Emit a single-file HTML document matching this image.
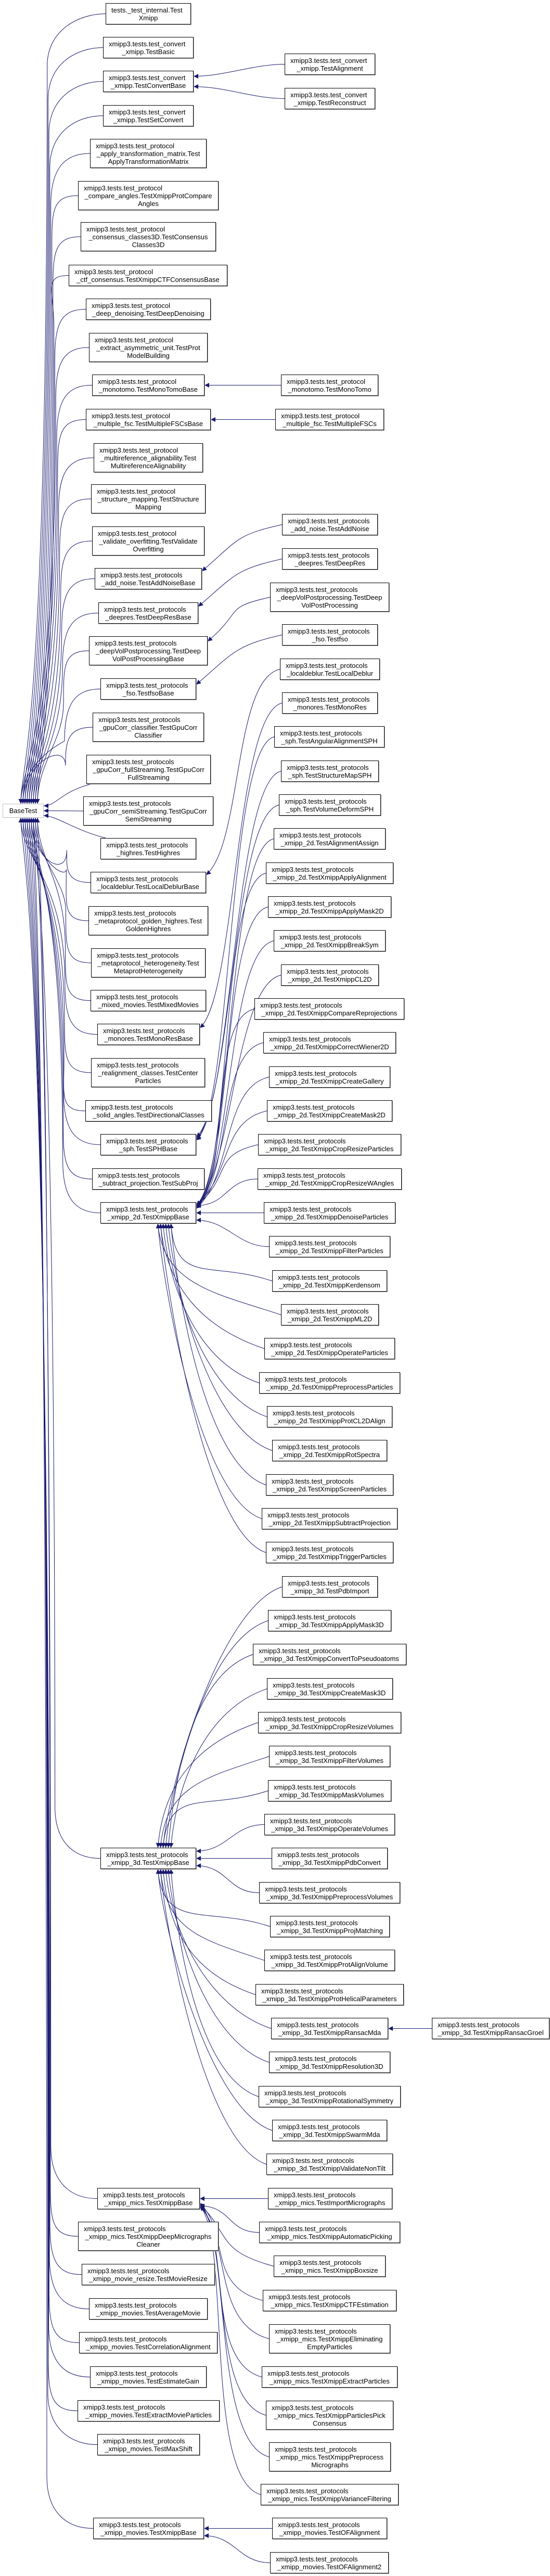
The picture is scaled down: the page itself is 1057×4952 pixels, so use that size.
<!DOCTYPE html>
<html><head><meta charset="utf-8">
<style>
html,body{margin:0;padding:0;background:#fff;}
body{width:1057px;height:4952px;position:relative;overflow:hidden;}
.n{position:absolute;box-sizing:border-box;height:41px;border:1px solid #000;background:#fff;font:13px/15px "Liberation Sans",sans-serif;color:#000;padding:5px 10px 0 10px;white-space:nowrap;box-shadow:1px 1px 0 #aaa;}
.n.t3{height:56px;}
.n div{text-align:center;}
.n div.a{text-align:left;}
#BT{border-color:#bfbfbf;box-shadow:none;height:27px;padding:5px 0 0 0;text-align:center;}
svg{position:absolute;left:0;top:0;}
</style></head><body>
<svg id="sv" width="1057" height="4952" xmlns="http://www.w3.org/2000/svg">
<defs><marker id="ar" viewBox="0 0 10 10" refX="10" refY="5" markerWidth="11" markerHeight="9" markerUnits="userSpaceOnUse" orient="auto"><path d="M0,0 L10,5 L0,10 z" fill="#191970"/></marker></defs>
<g id="eg" fill="none" stroke="#191970" stroke-width="1"></g>
</svg>

<div class="n" id="BT" style="left:5px;top:1545px;width:79px">BaseTest</div>

<div class="n" id="A" style="left:203px;top:6px;width:164px"><div class="a">tests._test_internal.Test</div><div>Xmipp</div></div>
<div class="n" id="B" style="left:198px;top:71px;width:174px"><div class="a">xmipp3.tests.test_convert</div><div>_xmipp.TestBasic</div></div>
<div class="n" id="C" style="left:198px;top:136px;width:174px"><div class="a">xmipp3.tests.test_convert</div><div>_xmipp.TestConvertBase</div></div>
<div class="n" id="D" style="left:198px;top:202px;width:174px"><div class="a">xmipp3.tests.test_convert</div><div>_xmipp.TestSetConvert</div></div>
<div class="n t3" id="E" style="left:173px;top:267px;width:224px"><div class="a">xmipp3.tests.test_protocol</div><div>_apply_transformation_matrix.Test</div><div>ApplyTransformationMatrix</div></div>
<div class="n t3" id="F" style="left:150px;top:348px;width:270px"><div class="a">xmipp3.tests.test_protocol</div><div>_compare_angles.TestXmippProtCompare</div><div>Angles</div></div>
<div class="n t3" id="G" style="left:155px;top:427px;width:260px"><div class="a">xmipp3.tests.test_protocol</div><div>_consensus_classes3D.TestConsensus</div><div>Classes3D</div></div>
<div class="n" id="H" style="left:132px;top:509px;width:305px"><div class="a">xmipp3.tests.test_protocol</div><div>_ctf_consensus.TestXmippCTFConsensusBase</div></div>
<div class="n" id="I" style="left:165px;top:574px;width:240px"><div class="a">xmipp3.tests.test_protocol</div><div>_deep_denoising.TestDeepDenoising</div></div>
<div class="n t3" id="J" style="left:171px;top:640px;width:228px"><div class="a">xmipp3.tests.test_protocol</div><div>_extract_asymmetric_unit.TestProt</div><div>ModelBuilding</div></div>
<div class="n" id="K" style="left:177px;top:720px;width:216px"><div class="a">xmipp3.tests.test_protocol</div><div>_monotomo.TestMonoTomoBase</div></div>
<div class="n" id="L" style="left:165px;top:786px;width:240px"><div class="a">xmipp3.tests.test_protocol</div><div>_multiple_fsc.TestMultipleFSCsBase</div></div>
<div class="n t3" id="M" style="left:180px;top:852px;width:210px"><div class="a">xmipp3.tests.test_protocol</div><div>_multireference_alignability.Test</div><div>MultireferenceAlignability</div></div>
<div class="n t3" id="N" style="left:175px;top:931px;width:220px"><div class="a">xmipp3.tests.test_protocol</div><div>_structure_mapping.TestStructure</div><div>Mapping</div></div>
<div class="n t3" id="O" style="left:177px;top:1012px;width:216px"><div class="a">xmipp3.tests.test_protocol</div><div>_validate_overfitting.TestValidate</div><div>Overfitting</div></div>
<div class="n" id="P" style="left:182px;top:1092px;width:206px"><div class="a">xmipp3.tests.test_protocols</div><div>_add_noise.TestAddNoiseBase</div></div>
<div class="n" id="Q" style="left:189px;top:1158px;width:192px"><div class="a">xmipp3.tests.test_protocols</div><div>_deepres.TestDeepResBase</div></div>
<div class="n t3" id="R" style="left:171px;top:1223px;width:228px"><div class="a">xmipp3.tests.test_protocols</div><div>_deepVolPostprocessing.TestDeep</div><div>VolPostProcessingBase</div></div>
<div class="n" id="S" style="left:193px;top:1304px;width:184px"><div class="a">xmipp3.tests.test_protocols</div><div>_fso.TestfsoBase</div></div>
<div class="n t3" id="T" style="left:178px;top:1370px;width:214px"><div class="a">xmipp3.tests.test_protocols</div><div>_gpuCorr_classifier.TestGpuCorr</div><div>Classifier</div></div>
<div class="n t3" id="U" style="left:166px;top:1451px;width:239px"><div class="a">xmipp3.tests.test_protocols</div><div>_gpuCorr_fullStreaming.TestGpuCorr</div><div>FullStreaming</div></div>
<div class="n t3" id="V" style="left:160px;top:1531px;width:250px"><div class="a">xmipp3.tests.test_protocols</div><div>_gpuCorr_semiStreaming.TestGpuCorr</div><div>SemiStreaming</div></div>
<div class="n" id="W" style="left:193px;top:1611px;width:184px"><div class="a">xmipp3.tests.test_protocols</div><div>_highres.TestHighres</div></div>
<div class="n" id="X" style="left:174px;top:1676px;width:222px"><div class="a">xmipp3.tests.test_protocols</div><div>_localdeblur.TestLocalDeblurBase</div></div>
<div class="n t3" id="Y" style="left:170px;top:1742px;width:230px"><div class="a">xmipp3.tests.test_protocols</div><div>_metaprotocol_golden_highres.Test</div><div>GoldenHighres</div></div>
<div class="n t3" id="Z" style="left:175px;top:1823px;width:220px"><div class="a">xmipp3.tests.test_protocols</div><div>_metaprotocol_heterogeneity.Test</div><div>MetaprotHeterogeneity</div></div>
<div class="n" id="AA" style="left:174px;top:1903px;width:222px"><div class="a">xmipp3.tests.test_protocols</div><div>_mixed_movies.TestMixedMovies</div></div>
<div class="n" id="AB" style="left:187px;top:1968px;width:197px"><div class="a">xmipp3.tests.test_protocols</div><div>_monores.TestMonoResBase</div></div>
<div class="n t3" id="AC" style="left:175px;top:2034px;width:219px"><div class="a">xmipp3.tests.test_protocols</div><div>_realignment_classes.TestCenter</div><div>Particles</div></div>
<div class="n" id="AD" style="left:164px;top:2115px;width:243px"><div class="a">xmipp3.tests.test_protocols</div><div>_solid_angles.TestDirectionalClasses</div></div>
<div class="n" id="AE" style="left:193px;top:2180px;width:184px"><div class="a">xmipp3.tests.test_protocols</div><div>_sph.TestSPHBase</div></div>
<div class="n" id="AF" style="left:177px;top:2246px;width:216px"><div class="a">xmipp3.tests.test_protocols</div><div>_subtract_projection.TestSubProj</div></div>
<div class="n" id="AG" style="left:193px;top:2311px;width:184px"><div class="a">xmipp3.tests.test_protocols</div><div>_xmipp_2d.TestXmippBase</div></div>
<div class="n" id="AH" style="left:193px;top:3552px;width:184px"><div class="a">xmipp3.tests.test_protocols</div><div>_xmipp_3d.TestXmippBase</div></div>
<div class="n" id="AI" style="left:187px;top:4206px;width:197px"><div class="a">xmipp3.tests.test_protocols</div><div>_xmipp_mics.TestXmippBase</div></div>
<div class="n t3" id="AJ" style="left:150px;top:4271px;width:270px"><div class="a">xmipp3.tests.test_protocols</div><div>_xmipp_mics.TestXmippDeepMicrographs</div><div>Cleaner</div></div>
<div class="n" id="AK" style="left:157px;top:4352px;width:256px"><div class="a">xmipp3.tests.test_protocols</div><div>_xmipp_movie_resize.TestMovieResize</div></div>
<div class="n" id="AL" style="left:171px;top:4418px;width:228px"><div class="a">xmipp3.tests.test_protocols</div><div>_xmipp_movies.TestAverageMovie</div></div>
<div class="n" id="AM" style="left:152px;top:4483px;width:266px"><div class="a">xmipp3.tests.test_protocols</div><div>_xmipp_movies.TestCorrelationAlignment</div></div>
<div class="n" id="AN" style="left:173px;top:4549px;width:224px"><div class="a">xmipp3.tests.test_protocols</div><div>_xmipp_movies.TestEstimateGain</div></div>
<div class="n" id="AO" style="left:149px;top:4614px;width:273px"><div class="a">xmipp3.tests.test_protocols</div><div>_xmipp_movies.TestExtractMovieParticles</div></div>
<div class="n" id="AP" style="left:187px;top:4679px;width:197px"><div class="a">xmipp3.tests.test_protocols</div><div>_xmipp_movies.TestMaxShift</div></div>
<div class="n" id="AQ" style="left:179px;top:4840px;width:213px"><div class="a">xmipp3.tests.test_protocols</div><div>_xmipp_movies.TestXmippBase</div></div>

<div class="n" id="c1" style="left:547px;top:103px;width:174px"><div class="a">xmipp3.tests.test_convert</div><div>_xmipp.TestAlignment</div></div>
<div class="n" id="c2" style="left:547px;top:169px;width:174px"><div class="a">xmipp3.tests.test_convert</div><div>_xmipp.TestReconstruct</div></div>
<div class="n" id="c3" style="left:540px;top:720px;width:187px"><div class="a">xmipp3.tests.test_protocol</div><div>_monotomo.TestMonoTomo</div></div>
<div class="n" id="c4" style="left:529px;top:786px;width:209px"><div class="a">xmipp3.tests.test_protocol</div><div>_multiple_fsc.TestMultipleFSCs</div></div>
<div class="n" id="c5" style="left:542px;top:988px;width:184px"><div class="a">xmipp3.tests.test_protocols</div><div>_add_noise.TestAddNoise</div></div>
<div class="n" id="c6" style="left:542px;top:1054px;width:184px"><div class="a">xmipp3.tests.test_protocols</div><div>_deepres.TestDeepRes</div></div>
<div class="n t3" id="c7" style="left:519px;top:1120px;width:229px"><div class="a">xmipp3.tests.test_protocols</div><div>_deepVolPostprocessing.TestDeep</div><div>VolPostProcessing</div></div>
<div class="n" id="c8" style="left:542px;top:1200px;width:184px"><div class="a">xmipp3.tests.test_protocols</div><div>_fso.Testfso</div></div>
<div class="n" id="c9" style="left:538px;top:1266px;width:192px"><div class="a">xmipp3.tests.test_protocols</div><div>_localdeblur.TestLocalDeblur</div></div>
<div class="n" id="c10" style="left:542px;top:1331px;width:184px"><div class="a">xmipp3.tests.test_protocols</div><div>_monores.TestMonoRes</div></div>
<div class="n" id="c11" style="left:527px;top:1396px;width:212px"><div class="a">xmipp3.tests.test_protocols</div><div>_sph.TestAngularAlignmentSPH</div></div>
<div class="n" id="c12" style="left:540px;top:1462px;width:188px"><div class="a">xmipp3.tests.test_protocols</div><div>_sph.TestStructureMapSPH</div></div>
<div class="n" id="c13" style="left:536px;top:1527px;width:196px"><div class="a">xmipp3.tests.test_protocols</div><div>_sph.TestVolumeDeformSPH</div></div>
<div class="n" id="c14" style="left:526px;top:1592px;width:215px"><div class="a">xmipp3.tests.test_protocols</div><div>_xmipp_2d.TestAlignmentAssign</div></div>
<div class="n" id="c15" style="left:511px;top:1658px;width:245px"><div class="a">xmipp3.tests.test_protocols</div><div>_xmipp_2d.TestXmippApplyAlignment</div></div>
<div class="n" id="c16" style="left:515px;top:1723px;width:237px"><div class="a">xmipp3.tests.test_protocols</div><div>_xmipp_2d.TestXmippApplyMask2D</div></div>
<div class="n" id="c17" style="left:526px;top:1788px;width:215px"><div class="a">xmipp3.tests.test_protocols</div><div>_xmipp_2d.TestXmippBreakSym</div></div>
<div class="n" id="c18" style="left:540px;top:1854px;width:188px"><div class="a">xmipp3.tests.test_protocols</div><div>_xmipp_2d.TestXmippCL2D</div></div>
<div class="n" id="c19" style="left:489px;top:1919px;width:288px"><div class="a">xmipp3.tests.test_protocols</div><div>_xmipp_2d.TestXmippCompareReprojections</div></div>
<div class="n" id="c20" style="left:506px;top:1984px;width:255px"><div class="a">xmipp3.tests.test_protocols</div><div>_xmipp_2d.TestXmippCorrectWiener2D</div></div>
<div class="n" id="c21" style="left:517px;top:2050px;width:233px"><div class="a">xmipp3.tests.test_protocols</div><div>_xmipp_2d.TestXmippCreateGallery</div></div>
<div class="n" id="c22" style="left:513px;top:2115px;width:241px"><div class="a">xmipp3.tests.test_protocols</div><div>_xmipp_2d.TestXmippCreateMask2D</div></div>
<div class="n" id="c23" style="left:496px;top:2180px;width:275px"><div class="a">xmipp3.tests.test_protocols</div><div>_xmipp_2d.TestXmippCropResizeParticles</div></div>
<div class="n" id="c24" style="left:495px;top:2246px;width:277px"><div class="a">xmipp3.tests.test_protocols</div><div>_xmipp_2d.TestXmippCropResizeWAngles</div></div>
<div class="n" id="c25" style="left:507px;top:2311px;width:253px"><div class="a">xmipp3.tests.test_protocols</div><div>_xmipp_2d.TestXmippDenoiseParticles</div></div>
<div class="n" id="c26" style="left:517px;top:2376px;width:233px"><div class="a">xmipp3.tests.test_protocols</div><div>_xmipp_2d.TestXmippFilterParticles</div></div>
<div class="n" id="c27" style="left:523px;top:2442px;width:221px"><div class="a">xmipp3.tests.test_protocols</div><div>_xmipp_2d.TestXmippKerdensom</div></div>
<div class="n" id="c28" style="left:540px;top:2507px;width:188px"><div class="a">xmipp3.tests.test_protocols</div><div>_xmipp_2d.TestXmippML2D</div></div>
<div class="n" id="c29" style="left:508px;top:2572px;width:251px"><div class="a">xmipp3.tests.test_protocols</div><div>_xmipp_2d.TestXmippOperateParticles</div></div>
<div class="n" id="c30" style="left:498px;top:2638px;width:271px"><div class="a">xmipp3.tests.test_protocols</div><div>_xmipp_2d.TestXmippPreprocessParticles</div></div>
<div class="n" id="c31" style="left:513px;top:2703px;width:241px"><div class="a">xmipp3.tests.test_protocols</div><div>_xmipp_2d.TestXmippProtCL2DAlign</div></div>
<div class="n" id="c32" style="left:523px;top:2768px;width:221px"><div class="a">xmipp3.tests.test_protocols</div><div>_xmipp_2d.TestXmippRotSpectra</div></div>
<div class="n" id="c33" style="left:511px;top:2834px;width:245px"><div class="a">xmipp3.tests.test_protocols</div><div>_xmipp_2d.TestXmippScreenParticles</div></div>
<div class="n" id="c34" style="left:503px;top:2899px;width:261px"><div class="a">xmipp3.tests.test_protocols</div><div>_xmipp_2d.TestXmippSubtractProjection</div></div>
<div class="n" id="c35" style="left:511px;top:2964px;width:245px"><div class="a">xmipp3.tests.test_protocols</div><div>_xmipp_2d.TestXmippTriggerParticles</div></div>
<div class="n" id="d1" style="left:542px;top:3030px;width:184px"><div class="a">xmipp3.tests.test_protocols</div><div>_xmipp_3d.TestPdbImport</div></div>
<div class="n" id="d2" style="left:515px;top:3095px;width:237px"><div class="a">xmipp3.tests.test_protocols</div><div>_xmipp_3d.TestXmippApplyMask3D</div></div>
<div class="n" id="d3" style="left:486px;top:3160px;width:295px"><div class="a">xmipp3.tests.test_protocols</div><div>_xmipp_3d.TestXmippConvertToPseudoatoms</div></div>
<div class="n" id="d4" style="left:513px;top:3226px;width:242px"><div class="a">xmipp3.tests.test_protocols</div><div>_xmipp_3d.TestXmippCreateMask3D</div></div>
<div class="n" id="d5" style="left:496px;top:3291px;width:275px"><div class="a">xmipp3.tests.test_protocols</div><div>_xmipp_3d.TestXmippCropResizeVolumes</div></div>
<div class="n" id="d6" style="left:517px;top:3356px;width:233px"><div class="a">xmipp3.tests.test_protocols</div><div>_xmipp_3d.TestXmippFilterVolumes</div></div>
<div class="n" id="d7" style="left:515px;top:3422px;width:237px"><div class="a">xmipp3.tests.test_protocols</div><div>_xmipp_3d.TestXmippMaskVolumes</div></div>
<div class="n" id="d8" style="left:508px;top:3487px;width:251px"><div class="a">xmipp3.tests.test_protocols</div><div>_xmipp_3d.TestXmippOperateVolumes</div></div>
<div class="n" id="d9" style="left:522px;top:3552px;width:223px"><div class="a">xmipp3.tests.test_protocols</div><div>_xmipp_3d.TestXmippPdbConvert</div></div>
<div class="n" id="d10" style="left:498px;top:3618px;width:271px"><div class="a">xmipp3.tests.test_protocols</div><div>_xmipp_3d.TestXmippPreprocessVolumes</div></div>
<div class="n" id="d11" style="left:519px;top:3683px;width:230px"><div class="a">xmipp3.tests.test_protocols</div><div>_xmipp_3d.TestXmippProjMatching</div></div>
<div class="n" id="d12" style="left:508px;top:3748px;width:251px"><div class="a">xmipp3.tests.test_protocols</div><div>_xmipp_3d.TestXmippProtAlignVolume</div></div>
<div class="n" id="d13" style="left:491px;top:3814px;width:285px"><div class="a">xmipp3.tests.test_protocols</div><div>_xmipp_3d.TestXmippProtHelicalParameters</div></div>
<div class="n" id="d14" style="left:521px;top:3879px;width:225px"><div class="a">xmipp3.tests.test_protocols</div><div>_xmipp_3d.TestXmippRansacMda</div></div>
<div class="n" id="d15" style="left:830px;top:3879px;width:226px"><div class="a">xmipp3.tests.test_protocols</div><div>_xmipp_3d.TestXmippRansacGroel</div></div>
<div class="n" id="d16" style="left:517px;top:3944px;width:233px"><div class="a">xmipp3.tests.test_protocols</div><div>_xmipp_3d.TestXmippResolution3D</div></div>
<div class="n" id="d17" style="left:497px;top:4010px;width:273px"><div class="a">xmipp3.tests.test_protocols</div><div>_xmipp_3d.TestXmippRotationalSymmetry</div></div>
<div class="n" id="d18" style="left:523px;top:4075px;width:221px"><div class="a">xmipp3.tests.test_protocols</div><div>_xmipp_3d.TestXmippSwarmMda</div></div>
<div class="n" id="d19" style="left:512px;top:4140px;width:243px"><div class="a">xmipp3.tests.test_protocols</div><div>_xmipp_3d.TestXmippValidateNonTilt</div></div>
<div class="n" id="m1" style="left:515px;top:4206px;width:239px"><div class="a">xmipp3.tests.test_protocols</div><div>_xmipp_mics.TestImportMicrographs</div></div>
<div class="n" id="m2" style="left:498px;top:4271px;width:271px"><div class="a">xmipp3.tests.test_protocols</div><div>_xmipp_mics.TestXmippAutomaticPicking</div></div>
<div class="n" id="m3" style="left:526px;top:4336px;width:215px"><div class="a">xmipp3.tests.test_protocols</div><div>_xmipp_mics.TestXmippBoxsize</div></div>
<div class="n" id="m4" style="left:505px;top:4402px;width:257px"><div class="a">xmipp3.tests.test_protocols</div><div>_xmipp_mics.TestXmippCTFEstimation</div></div>
<div class="n t3" id="m5" style="left:517px;top:4468px;width:233px"><div class="a">xmipp3.tests.test_protocols</div><div>_xmipp_mics.TestXmippEliminating</div><div>EmptyParticles</div></div>
<div class="n" id="m6" style="left:503px;top:4549px;width:261px"><div class="a">xmipp3.tests.test_protocols</div><div>_xmipp_mics.TestXmippExtractParticles</div></div>
<div class="n t3" id="m7" style="left:511px;top:4615px;width:245px"><div class="a">xmipp3.tests.test_protocols</div><div>_xmipp_mics.TestXmippParticlesPick</div><div>Consensus</div></div>
<div class="n t3" id="m8" style="left:517px;top:4695px;width:234px"><div class="a">xmipp3.tests.test_protocols</div><div>_xmipp_mics.TestXmippPreprocess</div><div>Micrographs</div></div>
<div class="n" id="m9" style="left:501px;top:4775px;width:265px"><div class="a">xmipp3.tests.test_protocols</div><div>_xmipp_mics.TestXmippVarianceFiltering</div></div>
<div class="n" id="o1" style="left:523px;top:4840px;width:221px"><div class="a">xmipp3.tests.test_protocols</div><div>_xmipp_movies.TestOFAlignment</div></div>
<div class="n" id="o2" style="left:519px;top:4906px;width:228px"><div class="a">xmipp3.tests.test_protocols</div><div>_xmipp_movies.TestOFAlignment2</div></div>

<script>
(function(){
function g(id){var e=document.getElementById(id);return {l:e.offsetLeft,t:e.offsetTop,w:e.offsetWidth,h:e.offsetHeight,r:e.offsetLeft+e.offsetWidth,b:e.offsetTop+e.offsetHeight,cy:e.offsetTop+e.offsetHeight/2};}
var out=[];
function P(d){out.push('<path marker-end="url(#ar)" d="'+d+'"/>');}
var col2=["A","B","C","D","E","F","G","H","I","J","K","L","M","N","O","P","Q","R","S","T","U","V","W","X","Y","Z","AA","AB","AC","AD","AE","AF","AG","AH","AI","AJ","AK","AL","AM","AN","AO","AP","AQ"];
var BT=g("BT");
col2.forEach(function(id,i){
  var n=g(id),L=n.l,cy=n.cy,bc=BT.t+BT.h/2;
  if(Math.abs(cy-bc)<90){
    var ey=Math.max(BT.t+4,Math.min(BT.b-4,bc+(cy-bc)*0.3));
    var sx=(id==="V")?L:L+10, sy=(id==="V")?cy:(cy<bc?n.b:n.t);
    if(id==="V"){P("M"+L+","+cy+" L"+BT.r+","+bc);}
    else P("M"+sx+","+sy+" C"+(sx-60)+","+(sy+(cy<bc?15:-15))+" "+(BT.r+25)+","+ey+" "+BT.r+","+ey);
    return;
  }
  var ex=40+(i%9)*4;
  if(cy<bc){
    var dist=bc-cy, xv=90+40*(1-Math.min(1,dist/1560)), mid=Math.min(cy+100,(cy+BT.t)/2);
    P("M"+L+","+cy+" C"+(L-50)+","+cy+" "+xv+","+(cy+30)+" "+xv+","+mid+" C"+xv+","+(BT.t-120)+" "+ex+","+(BT.t-80)+" "+ex+","+BT.t);
  }else{
    var dist2=cy-bc, xv2=90+40*(1-Math.min(1,dist2/3300)), mid2=Math.max(cy-100,(cy+BT.b)/2);
    P("M"+L+","+cy+" C"+(L-50)+","+cy+" "+xv2+","+(cy-30)+" "+xv2+","+mid2+" C"+xv2+","+(BT.b+120)+" "+ex+","+(BT.b+80)+" "+ex+","+BT.b);
  }
});
var E=[["c1","C"],["c2","C"],["c3","K"],["c4","L"],["c5","P"],["c6","Q"],["c7","R"],["c8","S"],["c9","X"],["c10","AB"],["c11","AE"],["c12","AE"],["c13","AE"],["d15","d14"],["o1","AQ"],["o2","AQ"]];
var i;
for(i=14;i<=35;i++)E.push(["c"+i,"AG"]);
for(i=1;i<=19;i++){if(i===15)continue;E.push(["d"+i,"AH"]);}
for(i=1;i<=9;i++)E.push(["m"+i,"AI"]);
E.forEach(function(e,k){
  var c=g(e[0]),p=g(e[1]),sx=c.l,sy=c.cy,dy=c.cy-p.cy;
  var mode="right";
  if(Math.abs(dy)>=90){
    if(e[1]==="AG") mode=dy<0?"rtop":"bottom";
    else if(e[1]==="AH") mode=dy<0?"top":"bottom";
    else if(e[1]==="AI") mode="rbot";
    else mode=dy<0?"rtop":"rbot";
  }
  var ex,ey,d;
  if(mode==="right"){
    ex=p.r; ey=p.cy+Math.max(-14,Math.min(14,dy*0.3));
    d="M"+sx+","+sy+" C"+(sx-60)+","+sy+" "+(ex+60)+","+ey+" "+ex+","+ey;
  }else if(mode==="rtop"){
    ex=p.r; ey=p.t+6+(k%4)*2;
    d="M"+sx+","+sy+" C"+(sx-90)+","+(sy+20)+" "+(ex+70)+","+(ey-60)+" "+ex+","+ey;
  }else if(mode==="rbot"){
    ex=p.r; ey=p.b-6-(k%4)*2;
    d="M"+sx+","+sy+" C"+(sx-110)+","+(sy-30)+" "+(ex+60)+","+(ey+60)+" "+ex+","+ey;
  }else if(mode==="top"){
    ex=p.l+p.w*0.6+(k%6)*5; ey=p.t;
    d="M"+sx+","+sy+" C"+(sx-120)+","+(sy+40)+" "+(ex+10)+","+(ey-120)+" "+ex+","+ey;
  }else{
    ex=p.l+p.w*0.6+(k%6)*5; ey=p.b;
    d="M"+sx+","+sy+" C"+(sx-120)+","+(sy-40)+" "+(ex+10)+","+(ey+120)+" "+ex+","+ey;
  }
  P(d);
});
document.getElementById("eg").innerHTML=out.join("");
})();
</script>
</body></html>
